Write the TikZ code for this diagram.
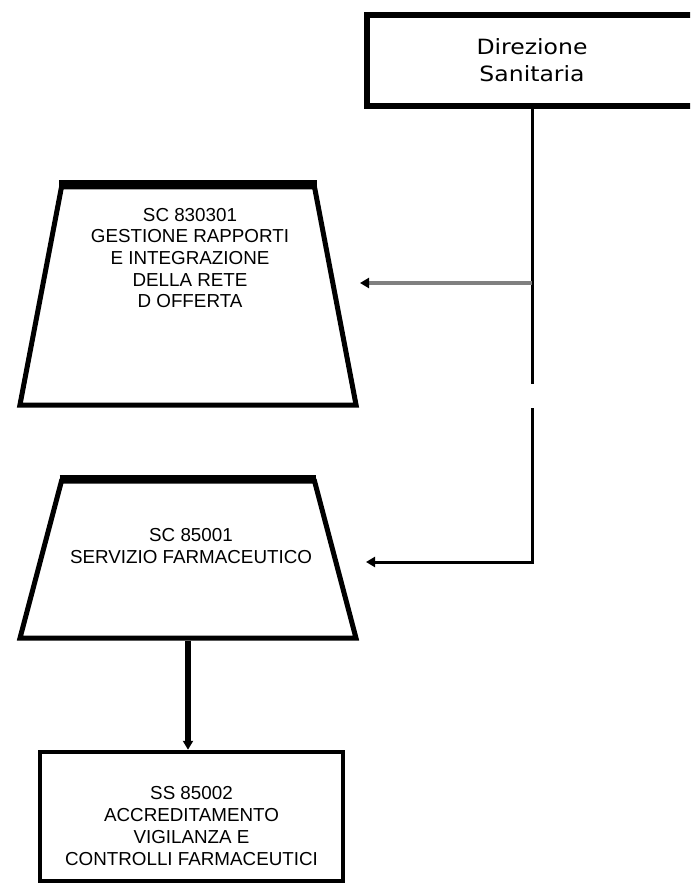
\documentclass[tikz,border=0pt]{standalone}
\usepackage{fontspec}
\setmainfont{Liberation Sans}
\newfontfamily\dirfont{DejaVu Sans}[FakeStretch=1.12]
\usetikzlibrary{shapes.geometric,arrows.meta}

\begin{document}
\begin{tikzpicture}[x=1pt,y=-1pt,
  dirbox/.style={draw,line width=6.5pt,minimum width=330pt,minimum height=91pt,
    align=center,font=\dirfont\fontsize{21}{27}\selectfont},
  unitbox/.style={trapezium,draw,line width=5pt,inner xsep=126.5pt},
  ssbox/.style={draw,line width=4.5pt,minimum width=303pt,minimum height=129pt},
  lbl/.style={align=center,font=\fontsize{18.8}{21.7}\selectfont},
  trunk/.style={line width=3pt},
  tip/.style={-{Triangle[length=9pt,width=10pt,black]}}]
% Parameters
\def\xtrunk{532}; \def\yone{283}; \def\ytwo{562};

\path[clip] (0,0) rectangle (690,885);

% Boxes
\node[dirbox] (dir) at (\xtrunk,60.5) {Direzione\\Sanitaria};
\node[unitbox,inner ysep=109pt,trapezium angle=79.2] (sc1) at (188,296) {};
\draw[line width=8pt] (sc1.top left corner) -- (sc1.top right corner);
\node[lbl] (sc1txt) at (190,258) {SC 830301\\GESTIONE RAPPORTI\\E INTEGRAZIONE\\DELLA RETE\\D OFFERTA};
\node[unitbox,inner ysep=78.5pt,trapezium angle=75.2] (sc2) at (188,559.5) {};
\draw[line width=8pt] (sc2.top left corner) -- (sc2.top right corner);
\node[lbl] (sc2txt) at (191,546) {SC 85001\\SERVIZIO FARMACEUTICO};
\node[ssbox] (ss) at (191.5,816.5) {};
\node[lbl] (sstxt) at (191.5,826) {SS 85002\\ACCREDITAMENTO\\VIGILANZA E\\CONTROLLI FARMACEUTICI};

% Connectors
\coordinate (t1) at (\xtrunk,384);
\coordinate (t2) at (\xtrunk,408);
\coordinate (b1) at (\xtrunk,\yone);
\coordinate (a1) at (360,\yone);
\coordinate (a2) at (366,\ytwo);
\draw[trunk] (dir.south) -- (t1);
\draw[tip,line width=3.5pt,draw=black!50] (b1) -- (a1);
\draw[trunk,tip] (t2) |- (a2);
\draw[tip,line width=5.5pt] (sc2.south) -- (sc2.south |- ss.north);
\end{tikzpicture}
\end{document}
